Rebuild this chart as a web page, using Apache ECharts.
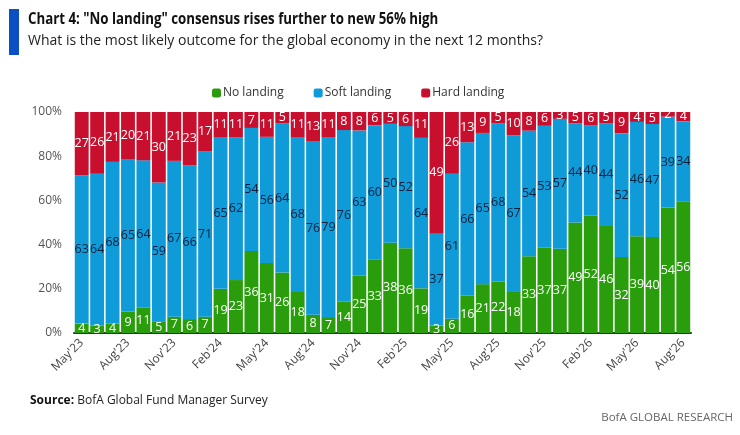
<!DOCTYPE html>
<html>
<head>
<meta charset="utf-8">
<script src="https://cdn.jsdelivr.net/npm/echarts@6/dist/echarts.min.js"></script>
<style>
  html, body { margin: 0; padding: 0; background: #fff; }
  #main { width: 740px; height: 435px; }
</style>
</head>
<body>
<div id="main"></div>
<script>
// survey months, May'23 .. Aug'26
const months = ["May'23","Jun'23","Jul'23","Aug'23","Sep'23","Oct'23","Nov'23","Dec'23","Jan'24",
  "Feb'24","Mar'24","Apr'24","May'24","Jun'24","Jul'24","Aug'24","Sep'24","Oct'24","Nov'24","Dec'24",
  "Jan'25","Feb'25","Mar'25","Apr'25","May'25","Jun'25","Jul'25","Aug'25","Sep'25","Oct'25","Nov'25",
  "Dec'25","Jan'26","Feb'26","Mar'26","Apr'26","May'26","Jun'26","Jul'26","Aug'26"];

// raw % of respondents (as labelled)
const noLanding = [4,3,4,9,11,5,7,6,7,19,23,36,31,26,18,8,7,14,25,33,38,36,19,3,6,16,21,22,18,33,37,37,49,52,46,32,39,40,54,56];
const softLanding = [63,64,68,65,64,59,67,66,71,65,62,54,56,64,68,76,79,76,63,60,50,52,64,37,61,66,65,68,67,54,53,57,44,40,44,52,46,47,39,34];
const hardLanding = [27,26,21,20,21,30,21,23,17,11,11,7,11,5,11,13,11,8,8,6,5,6,11,49,26,13,9,5,10,8,6,3,5,6,5,9,4,5,2,4];

const seriesNames = ['No landing', 'Soft landing', 'Hard landing'];
const colors = ['#2a9d0c', '#0f9bd8', '#c8102e'];

var chartDom = document.getElementById('main');
var myChart = echarts.init(chartDom);

// bars are drawn normalised to 100%, labels show the survey number
function share(arr, i) {
  var tot = noLanding[i] + softLanding[i] + hardLanding[i];
  return arr[i] / tot * 100;
}
function makeSeries(name, arr, color, labelColor) {
  return {
    name: name,
    type: 'bar',
    stack: 'total',
    barCategoryGap: '10%',
    data: arr.map(function (v, i) { return { value: share(arr, i), raw: v }; }),
    itemStyle: { color: color },
    label: {
      show: true,
      position: 'inside',
      color: labelColor,
      fontSize: 12.5,
      fontFamily: 'Open Sans',
      formatter: function (p) { return p.data.raw; }
    }
  };
}

var font = 'Open Sans';
var option = {
  animation: false,
  color: colors,
  textStyle: { fontFamily: font },
  legend: {
    data: seriesNames,
    left: 207,
    top: 82,
    itemWidth: 9,
    itemHeight: 9,
    itemGap: 30,
    icon: 'roundRect',
    textStyle: { fontSize: 12, color: '#333', fontFamily: font, padding: [0, 0, 0, -3] }
  },
  grid: { left: 74, right: 49, top: 112, bottom: 102 },
  xAxis: {
    type: 'category',
    data: months,
    axisTick: { show: false },
    axisLine: { lineStyle: { color: '#2b3a2b', width: 2 } },
    axisLabel: {
      interval: 2,
      rotate: 45,
      fontSize: 12,
      color: '#444',
      fontFamily: font,
      margin: 8
    }
  },
  yAxis: {
    type: 'value',
    min: 0,
    max: 100,
    interval: 20,
    splitLine: { show: false },
    axisLine: { show: false },
    axisTick: { show: false },
    axisLabel: { formatter: '{value}%', fontSize: 12, color: '#555', fontFamily: font, margin: 12 }
  },
  graphic: [
    { type: 'rect', shape: { x: 9, y: 9, width: 10, height: 46 }, style: { fill: '#0a4fc4' } },
    // condensed look for the headline
    { type: 'text', x: 28, y: 11, scaleX: 0.83,
      style: { text: 'Chart 4: "No landing" consensus rises further to new 56% high',
        font: 'bold 16px "Open Sans"', fill: '#111' } },
    { type: 'text', left: 28, top: 34,
      style: { text: 'What is the most likely outcome for the global economy in the next 12 months?',
        font: '14px "Open Sans"', fill: '#222' } },
    { type: 'text', left: 30, top: 395,
      style: { text: '{b|Source:} BofA Global Fund Manager Survey',
        font: '12px "Open Sans"', fill: '#222',
        rich: { b: { fontWeight: 'bold', fontSize: 12, fontFamily: font, fill: '#111' } } } },
    { type: 'text', right: 7, top: 412,
      style: { text: 'BofA GLOBAL RESEARCH', font: '11.5px "Open Sans"', fill: '#666' } }
  ],
  series: [
    makeSeries(seriesNames[0], noLanding, colors[0], '#fff'),
    makeSeries(seriesNames[1], softLanding, colors[1], '#0b1f3f'),
    makeSeries(seriesNames[2], hardLanding, colors[2], '#fff')
  ]
};
myChart.setOption(option);
</script>
</body>
</html>
